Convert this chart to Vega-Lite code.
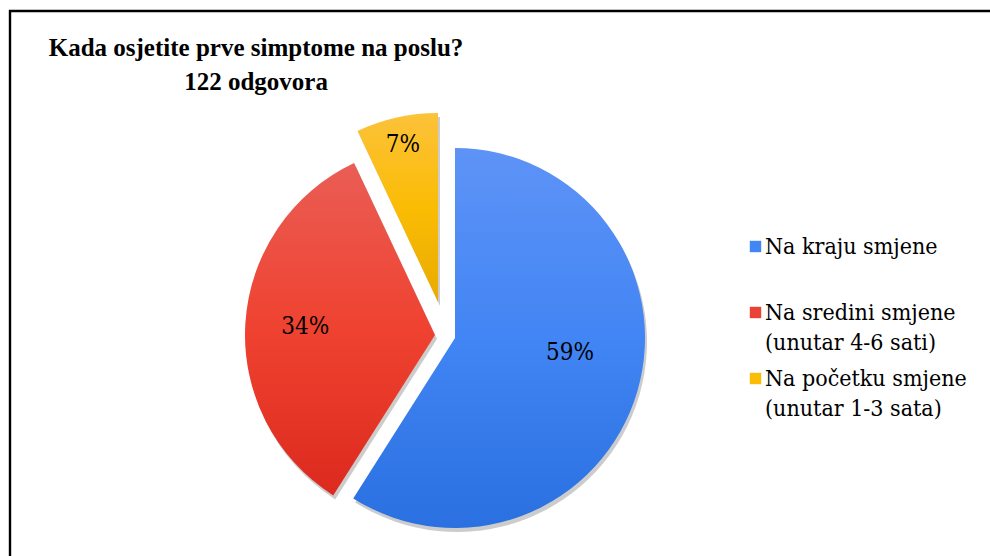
{
  "$schema": "https://vega.github.io/schema/vega-lite/v6.json",
  "width": 1000,
  "height": 565,
  "autosize": {"type": "none"},
  "padding": {"left": 10, "top": 11, "right": -20, "bottom": -20},
  "background": "#ffffff",
  "view": {"stroke": "#000000", "strokeWidth": 2.4},
  "config": {
    "font": "Liberation Serif",
    "view": {"stroke": "#000000", "strokeWidth": 2.4}
  },
  "title": {
    "text": ["Kada osjetite prve simptome na poslu?", "122 odgovora"],
    "anchor": "start",
    "align": "center",
    "frame": "group",
    "dx": 246,
    "dy": 2,
    "offset": -82,
    "font": "Liberation Serif",
    "fontSize": 25,
    "fontWeight": "bold",
    "lineHeight": 34,
    "color": "#000000"
  },
  "data": {
    "values": [
      {"cat": "Na kraju smjene", "pct": 59, "label": "59%", "order": 1},
      {"cat": "Na sredini smjene (unutar 4-6 sati)", "pct": 34, "label": "34%", "order": 2},
      {"cat": "Na početku smjene (unutar 1-3 sata)", "pct": 7, "label": "7%", "order": 3}
    ]
  },
  "layer": [
    {
      "mark": {"type": "arc", "radius": 190, "x": 447, "y": 331, "fill": "#000000"},
      "encoding": {
        "theta": {"field": "pct", "type": "quantitative", "stack": true},
        "order": {"field": "order", "type": "quantitative"},
        "fillOpacity": {"condition": {"test": "datum.order === 1", "value": 0.2}, "value": 0}
      }
    },
    {
      "mark": {"type": "arc", "radius": 190, "x": 427, "y": 328, "fill": "#000000"},
      "encoding": {
        "theta": {"field": "pct", "type": "quantitative", "stack": true},
        "order": {"field": "order", "type": "quantitative"},
        "fillOpacity": {"condition": {"test": "datum.order === 2", "value": 0.2}, "value": 0}
      }
    },
    {
      "mark": {"type": "arc", "radius": 189, "x": 430, "y": 295, "fill": "#000000"},
      "encoding": {
        "theta": {"field": "pct", "type": "quantitative", "stack": true},
        "order": {"field": "order", "type": "quantitative"},
        "fillOpacity": {"condition": {"test": "datum.order === 3", "value": 0.2}, "value": 0}
      }
    },
    {
      "mark": {
        "type": "arc", "radius": 190, "x": 445, "y": 327,
        "fill": {"gradient": "linear", "x1": 0, "y1": 0, "x2": 0, "y2": 1,
          "stops": [{"offset": 0, "color": "#5e93f6"}, {"offset": 0.5, "color": "#4285f4"}, {"offset": 1, "color": "#2a70e0"}]}
      },
      "encoding": {
        "theta": {"field": "pct", "type": "quantitative", "stack": true},
        "order": {"field": "order", "type": "quantitative"},
        "fillOpacity": {"condition": {"test": "datum.order === 1", "value": 1}, "value": 0}
      }
    },
    {
      "mark": {
        "type": "arc", "radius": 190, "x": 425, "y": 324,
        "fill": {"gradient": "linear", "x1": 0, "y1": 0, "x2": 0, "y2": 1,
          "stops": [{"offset": 0, "color": "#ea5d55"}, {"offset": 0.5, "color": "#ef4230"}, {"offset": 1, "color": "#dc2a1e"}]}
      },
      "encoding": {
        "theta": {"field": "pct", "type": "quantitative", "stack": true},
        "order": {"field": "order", "type": "quantitative"},
        "fillOpacity": {"condition": {"test": "datum.order === 2", "value": 1}, "value": 0}
      }
    },
    {
      "mark": {
        "type": "arc", "radius": 189, "x": 428, "y": 291,
        "fill": {"gradient": "linear", "x1": 0, "y1": 0, "x2": 0, "y2": 1,
          "stops": [{"offset": 0, "color": "#fcc23a"}, {"offset": 0.5, "color": "#fbbc05"}, {"offset": 1, "color": "#e8ab00"}]}
      },
      "encoding": {
        "theta": {"field": "pct", "type": "quantitative", "stack": true},
        "order": {"field": "order", "type": "quantitative"},
        "fillOpacity": {"condition": {"test": "datum.order === 3", "value": 1}, "value": 0}
      }
    },
    {
      "mark": {"type": "text", "radius": 116, "thetaOffset": -0.15, "x": 445, "y": 327, "font": "DejaVu Serif Condensed, DejaVu Serif", "fontSize": 24, "color": "#000000"},
      "encoding": {
        "theta": {"field": "pct", "type": "quantitative", "stack": true},
        "order": {"field": "order", "type": "quantitative"},
        "text": {"condition": {"test": "datum.order === 1", "field": "label"}, "value": ""}
      }
    },
    {
      "mark": {"type": "text", "radius": 130, "x": 425, "y": 324, "font": "DejaVu Serif Condensed, DejaVu Serif", "fontSize": 24, "color": "#000000"},
      "encoding": {
        "theta": {"field": "pct", "type": "quantitative", "stack": true},
        "order": {"field": "order", "type": "quantitative"},
        "text": {"condition": {"test": "datum.order === 2", "field": "label"}, "value": ""}
      }
    },
    {
      "mark": {"type": "text", "radius": 161, "x": 428, "y": 291, "font": "DejaVu Serif Condensed, DejaVu Serif", "fontSize": 24, "color": "#000000"},
      "encoding": {
        "theta": {"field": "pct", "type": "quantitative", "stack": true},
        "order": {"field": "order", "type": "quantitative"},
        "text": {"condition": {"test": "datum.order === 3", "field": "label"}, "value": ""}
      }
    },
    {
      "mark": {"type": "square", "opacity": 0},
      "encoding": {
        "color": {
          "field": "cat",
          "type": "nominal",
          "scale": {
            "domain": ["Na kraju smjene", "Na sredini smjene (unutar 4-6 sati)", "Na početku smjene (unutar 1-3 sata)"],
            "range": ["#4285f4", "#ea4335", "#fbbc05"]
          },
          "legend": {
            "title": null,
            "orient": "none",
            "legendX": 734,
            "legendY": 224,
            "padding": 0,
            "symbolType": "square",
            "symbolSize": 130,
            "symbolOpacity": 1,
            "symbolStrokeWidth": 0,
            "labelFont": "DejaVu Serif Condensed, DejaVu Serif",
            "labelFontSize": 23,
            "labelColor": "#000000",
            "labelLimit": 400,
            "labelOffset": -2,
            "rowPadding": 12,
            "gridAlign": "all",
            "labelBaseline": "top",
            "labelExpr": "split(replace(datum.label, ' (', '|('), '|')",
            "encode": {"labels": {"update": {
              "lineHeight": {"value": 30},
              "dy": {"value": -11}
            }}}
          }
        }
      }
    }
  ]
}
